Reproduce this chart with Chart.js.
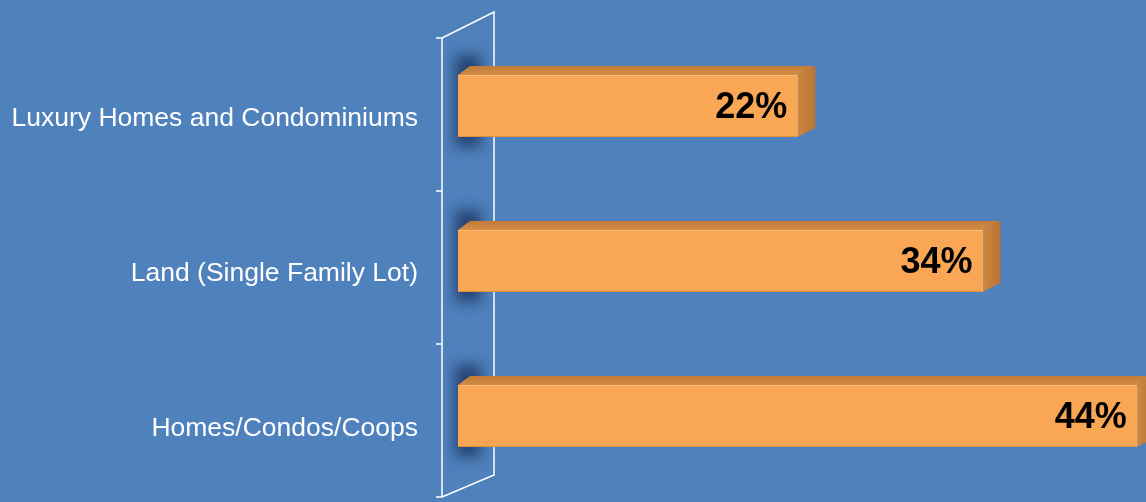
<!DOCTYPE html>
<html>
<head>
<meta charset="utf-8">
<script src="https://cdn.jsdelivr.net/npm/chart.js@4/dist/chart.umd.min.js"></script>
<style>
  html, body { margin: 0; padding: 0; background: #4f81bd; }
  canvas { display: block; }
</style>
</head>
<body>
<canvas id="grafico" width="1146" height="502"></canvas>
<script>
const categorias = ["Luxury Homes and Condominiums", "Land (Single Family Lot)", "Homes/Condos/Coops"];
const percentuais = [22, 34, 44];
const eixoMax = 44.6;

const FONTE = "Arial, 'Liberation Sans', sans-serif";
const FUNDO = "#4f81bd";

// fundo azul do slide
const pluginFundo = {
  id: "fundo",
  beforeDraw(chart) {
    const ctx = chart.ctx;
    ctx.save();
    ctx.fillStyle = FUNDO;
    ctx.fillRect(0, 0, chart.width, chart.height);
    ctx.restore();
  }
};

// parede 3D do eixo vertical + sombra atras das barras
const pluginParede = {
  id: "parede",
  beforeDatasetsDraw(chart) {
    const ctx = chart.ctx;
    const area = chart.chartArea;
    const frenteX = area.left - 16;
    const fundoX = area.left + 36;
    const frenteTopo = area.top + 9.5;
    const frenteBase = area.bottom + 3.5;
    const fundoTopo = area.top - 16.5;
    const fundoBase = area.bottom - 18.5;

    ctx.save();
    ctx.strokeStyle = "#ffffff";
    ctx.lineWidth = 1.5;
    ctx.beginPath();
    ctx.moveTo(frenteX, frenteTopo);
    ctx.lineTo(frenteX, frenteBase);
    ctx.moveTo(frenteX, frenteTopo);
    ctx.lineTo(fundoX, fundoTopo);
    ctx.lineTo(fundoX, fundoBase);
    ctx.lineTo(frenteX, frenteBase);
    const n = categorias.length;
    for (let i = 0; i <= n; i++) {
      const y = frenteTopo + (frenteBase - frenteTopo) * i / n;
      ctx.moveTo(frenteX - 6, y);
      ctx.lineTo(frenteX, y);
    }
    ctx.stroke();

    // sombra borrada na parede
    const meta = chart.getDatasetMeta(0);
    ctx.filter = "blur(7px)";
    ctx.fillStyle = "rgba(20, 40, 80, 0.7)";
    meta.data.forEach(bar => {
      const p = bar.getProps(["y", "base", "height"], true);
      ctx.fillRect(p.base - 3, p.y - p.height / 2 - 20, 26, p.height + 30);
    });
    ctx.restore();
  },
  afterDatasetsDraw(chart) {
    const ctx = chart.ctx;
    const meta = chart.getDatasetMeta(0);
    const dy = -9;
    ctx.save();
    meta.data.forEach((bar, i) => {
      const p = bar.getProps(["x", "y", "base", "height"], true);
      const esq = p.base, dir = p.x;
      const topo = p.y - p.height / 2, base = p.y + p.height / 2;
      const dxE = 12, dxD = 18;

      // face de cima
      const gTopo = ctx.createLinearGradient(0, topo + dy, 0, topo);
      gTopo.addColorStop(0, "#c27b38");
      gTopo.addColorStop(1, "#d48c45");
      ctx.fillStyle = gTopo;
      ctx.beginPath();
      ctx.moveTo(esq, topo);
      ctx.lineTo(esq + dxE, topo + dy);
      ctx.lineTo(dir + dxD, topo + dy);
      ctx.lineTo(dir, topo);
      ctx.closePath();
      ctx.fill();

      // face lateral
      const gLado = ctx.createLinearGradient(dir, 0, dir + dxD, 0);
      gLado.addColorStop(0, "#cf8640");
      gLado.addColorStop(1, "#b87434");
      ctx.fillStyle = gLado;
      ctx.beginPath();
      ctx.moveTo(dir, topo);
      ctx.lineTo(dir + dxD, topo + dy);
      ctx.lineTo(dir + dxD, base + dy);
      ctx.lineTo(dir, base);
      ctx.closePath();
      ctx.fill();

      // realce da aresta
      ctx.strokeStyle = "rgba(255, 200, 130, 0.7)";
      ctx.lineWidth = 1;
      ctx.beginPath();
      ctx.moveTo(esq, topo + 0.5);
      ctx.lineTo(dir, topo + 0.5);
      ctx.lineTo(dir, base);
      ctx.stroke();

      // rotulo de valor
      ctx.fillStyle = "#000000";
      ctx.font = "bold 36px " + FONTE;
      ctx.textAlign = "right";
      ctx.textBaseline = "middle";
      ctx.fillText(percentuais[i] + "%", dir - 10, p.y + 2);
    });
    ctx.restore();
  }
};

function carregarGrafico() {
  const ctx = document.getElementById("grafico").getContext("2d");
  new Chart(ctx, {
    type: "bar",
    data: {
      labels: categorias,
      datasets: [{
        data: percentuais,
        backgroundColor: "#f9a655",
        borderColor: "#e0913f",
        borderWidth: { top: 0, right: 0, bottom: 1, left: 0 },
        barPercentage: 0.4,
        categoryPercentage: 1
      }]
    },
    options: {
      indexAxis: "y",
      responsive: false,
      animation: false,
      devicePixelRatio: 1,
      layout: { padding: { top: 28.5, bottom: 8.5, left: 0, right: 0 } },
      plugins: {
        legend: { display: false },
        tooltip: { enabled: false }
      },
      scales: {
        x: { display: false, min: 0, max: eixoMax },
        y: {
          afterFit(escala) {
            escala.width = 458;
            escala.paddingTop = 0;
            escala.paddingBottom = 0;
          },
          grid: { display: false, drawTicks: false },
          border: { display: false },
          ticks: {
            color: "#ffffff",
            padding: 40,
            labelOffset: 12.5,
            font: { family: FONTE, size: 26.5 }
          }
        }
      }
    },
    plugins: [pluginFundo, pluginParede]
  });
}

carregarGrafico();
</script>
</body>
</html>
